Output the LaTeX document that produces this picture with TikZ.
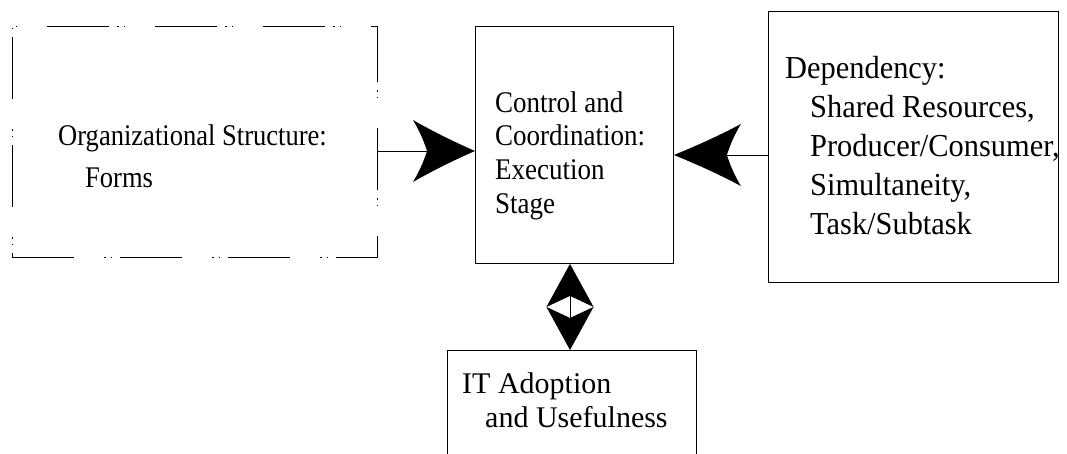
\documentclass[tikz,border=0pt]{standalone}
\usepackage{fontspec}
\setmainfont{Liberation Serif}
\newfontfamily\orgfont[FakeStretch=0.885]{Liberation Serif}
\newfontfamily\ctrlfont[FakeStretch=0.9]{Liberation Serif}
\newfontfamily\depfont[FakeStretch=0.95]{Liberation Serif}
\newfontfamily\itfont{Liberation Serif}
\usetikzlibrary{arrows.meta}

% Large barbed arrow head with slightly concave flanks
\pgfdeclarearrow{
  name = Barb,
  parameters = {\the\pgfarrowlength,\the\pgfarrowwidth,\the\pgfarrowinset},
  setup code = {
    \pgfarrowssettipend{0pt}
    \pgfarrowssetbackend{-\pgfarrowlength}
    \pgfarrowssetvisualbackend{-\pgfarrowlength}
    \pgfarrowssetlineend{-.5\pgfarrowlength}
    \pgfarrowshullpoint{0pt}{0pt}
    \pgfarrowshullpoint{-\pgfarrowlength}{.5\pgfarrowwidth}
    \pgfarrowshullpoint{-\pgfarrowlength}{-.5\pgfarrowwidth}
    \pgfarrowssavethe\pgfarrowlength
    \pgfarrowssavethe\pgfarrowwidth
    \pgfarrowssavethe\pgfarrowinset
  },
  drawing code = {
    \pgfpathmoveto{\pgfpointorigin}
    \pgfpathcurveto
      {\pgfpoint{-0.33*\pgfarrowlength}{0.145*\pgfarrowwidth}}
      {\pgfpoint{-0.67*\pgfarrowlength}{0.31*\pgfarrowwidth}}
      {\pgfpoint{-\pgfarrowlength}{0.5*\pgfarrowwidth}}
    \pgfpathcurveto
      {\pgfpoint{-\pgfarrowlength+0.4*\pgfarrowinset}{0.35*\pgfarrowwidth}}
      {\pgfpoint{-\pgfarrowlength+0.75*\pgfarrowinset}{0.18*\pgfarrowwidth}}
      {\pgfpoint{-\pgfarrowlength+\pgfarrowinset}{0pt}}
    \pgfpathcurveto
      {\pgfpoint{-\pgfarrowlength+0.75*\pgfarrowinset}{-0.18*\pgfarrowwidth}}
      {\pgfpoint{-\pgfarrowlength+0.4*\pgfarrowinset}{-0.35*\pgfarrowwidth}}
      {\pgfpoint{-\pgfarrowlength}{-0.5*\pgfarrowwidth}}
    \pgfpathcurveto
      {\pgfpoint{-0.67*\pgfarrowlength}{-0.31*\pgfarrowwidth}}
      {\pgfpoint{-0.33*\pgfarrowlength}{-0.145*\pgfarrowwidth}}
      {\pgfpointorigin}
    \pgfpathclose
    \pgfusepathqfill
  },
  defaults = {length=10pt, width=10pt, inset=2pt}
}

\newcommand\firstlinestrut{\rule{0pt}{26pt}}

\tikzset{
  box/.style={draw, line width=0.9pt, inner sep=0pt, anchor=north west},
  brokenbox/.style={box, dash pattern=on 62pt off 30pt on 1.5pt off 5pt on 1.5pt off 8pt},
  lbl/.style={anchor=north west, inner sep=0pt, align=left},
  conn/.style={line width=0.9pt},
  sidehead/.style={-{Barb[length=#1, width=62pt, inset=14pt]}},
  linkhead/.tip={Stealth[length=43pt, width=47pt, inset=11pt]},
}

\begin{document}
\begin{tikzpicture}[x=1pt, y=-1pt]
\clip (0,0) rectangle (1067,454);
\fill[white] (0,0) rectangle (1067,454);

% boxes
\node[brokenbox, minimum width=365pt, minimum height=231pt] (org) at (12,26) {};
\node[box, minimum width=198pt, minimum height=237pt] (ctrl) at (475,26) {};
\node[box, minimum width=290pt, minimum height=271pt] (dep) at (768,11) {};
\node[box, minimum width=249pt, minimum height=130pt] (it) at (447,350) {};

% box texts
\node[lbl, font={\orgfont\fontsize{30pt}{42pt}\selectfont}] (orgtext) at (58,119)
  {\firstlinestrut Organizational Structure:\\\hspace*{27pt}Forms};
\node[lbl, font={\ctrlfont\fontsize{30pt}{33.7pt}\selectfont}] (ctrltext) at (495,86)
  {\firstlinestrut Control and\\Coordination:\\Execution\\Stage};
\node[lbl, font={\depfont\fontsize{32pt}{39.2pt}\selectfont}] (deptext) at (785,52)
  {\firstlinestrut Dependency:\\\hspace*{25pt}Shared Resources,\\\hspace*{25pt}Producer/Consumer,\\\hspace*{25pt}Simultaneity,\\\hspace*{25pt}Task/Subtask};
\node[lbl, font={\itfont\fontsize{30pt}{34pt}\selectfont}] (ittext) at (462,367)
  {\firstlinestrut IT Adoption\\\hspace*{23pt}and Usefulness};

% connectors
\coordinate (lefty) at (0,151);
\coordinate (righty) at (0,155);
\coordinate (midx) at (570,0);
\draw[conn, sidehead=62pt] (org.east |- lefty) -- (ctrl.west |- lefty);
\draw[conn, sidehead=67pt] (dep.west |- righty) -- (ctrl.east |- righty);
\draw[conn, linkhead-linkhead] (ctrl.south -| midx) -- (it.north -| midx);
\end{tikzpicture}
\end{document}
